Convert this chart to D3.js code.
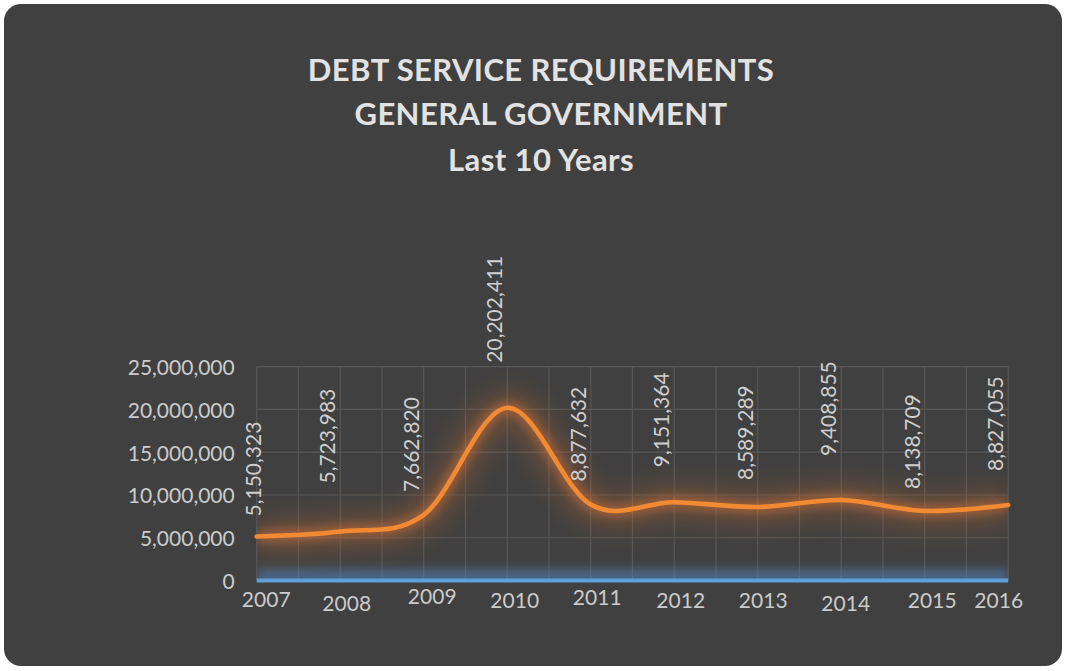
<!DOCTYPE html>
<html>
<head>
<meta charset="utf-8">
<script src="https://cdn.jsdelivr.net/npm/d3@7"></script>
<style>
  html, body { margin: 0; padding: 0; background: #ffffff; }
  svg { display: block; }
</style>
</head>
<body>
<svg id="chart" width="1067" height="671"></svg>
<script>
// Debt service requirements, general government, 2007-2016
const years = ['2007', '2008', '2009', '2010', '2011', '2012', '2013', '2014', '2015', '2016'];
const debtService = [5150323, 5723983, 7662820, 20202411, 8877632, 9151364, 8589289, 9408855, 8138709, 8827055];
const secondSeries = [0, 0, 0, 0, 0, 0, 0, 0, 0, 0];
const yTicks = [0, 5000000, 10000000, 15000000, 20000000, 25000000];
const titleLines = ['DEBT SERVICE REQUIREMENTS', 'GENERAL GOVERNMENT', 'Last 10 Years'];

// hand-placed offsets of the value labels (rise above the point) and year labels
const labelRise = [20, 48, 23, 45, 23, 35, 27, 44, 22, 34];
const yearNudgeX = [3, 0, 2, 1, 0, 0, -1, -2, 1, -16];
const yearNudgeY = [-1, 3, -4, 0, -3, 0, 0, 3, 0, 0];

const W = 1067, H = 671;
const plot = { left: 256.7, right: 1008.2, top: 366.7, bottom: 580.5 };
const font = 'Lato, "Open Sans", sans-serif';

const svg = d3.select('#chart');
const defs = svg.append('defs');

function blur(id, sd) {
  defs.append('filter')
    .attr('id', id)
    .attr('filterUnits', 'userSpaceOnUse')
    .attr('x', 0).attr('y', 0).attr('width', W).attr('height', H)
    .append('feGaussianBlur').attr('stdDeviation', sd);
}
blur('softWide', 12);
blur('softNarrow', 5);

defs.append('clipPath').attr('id', 'plotClip')
  .append('rect')
  .attr('x', plot.left).attr('y', plot.top - 30)
  .attr('width', plot.right - plot.left)
  .attr('height', plot.bottom - plot.top + 31);

// card
svg.append('rect')
  .attr('x', 4).attr('y', 4).attr('width', W - 9).attr('height', H - 9)
  .attr('rx', 17).attr('ry', 17)
  .attr('fill', '#404040');

// title
svg.append('g').selectAll('text').data(titleLines).join('text')
  .attr('x', 541)
  .attr('y', (d, i) => [81, 125, 171][i])
  .attr('text-anchor', 'middle')
  .attr('font-family', font)
  .attr('font-weight', 700)
  .attr('font-size', 31)
  .attr('letter-spacing', 0.4)
  .attr('fill', '#e2e2e2')
  .text(d => d);

const x = d3.scalePoint().domain(years).range([plot.left, plot.right]);
const y = d3.scaleLinear().domain([0, 25000000]).range([plot.bottom, plot.top]);
const step = x.step();

// gridlines
const grid = svg.append('g').attr('stroke', '#575757').attr('stroke-width', 1.2);
grid.selectAll('line.h').data(yTicks).join('line')
  .attr('class', 'h')
  .attr('x1', plot.left).attr('x2', plot.right)
  .attr('y1', d => y(d)).attr('y2', d => y(d));
const vx = [];
years.forEach((yr, i) => {
  vx.push(x(yr));
  if (i < years.length - 1) vx.push(x(yr) + step / 2);
});
grid.selectAll('line.v').data(vx).join('line')
  .attr('class', 'v')
  .attr('x1', d => d).attr('x2', d => d)
  .attr('y1', plot.top).attr('y2', plot.bottom);

// y axis
const yAxis = svg.append('g')
  .attr('transform', `translate(${plot.left},0)`)
  .call(d3.axisLeft(y).tickValues(yTicks).tickFormat(d3.format(',')).tickSize(0).tickPadding(22));
yAxis.select('.domain').remove();
yAxis.selectAll('text')
  .attr('font-family', font).attr('font-size', 21)
  .attr('fill', '#cbcbcb').attr('dy', '0.38em');

// x axis
const xAxis = svg.append('g')
  .attr('transform', `translate(0,${plot.bottom})`)
  .call(d3.axisBottom(x).tickSize(0));
xAxis.select('.domain').remove();
xAxis.selectAll('text')
  .attr('font-family', font).attr('font-size', 21)
  .attr('fill', '#cbcbcb')
  .attr('dy', null)
  .attr('x', (d, i) => 6 + yearNudgeX[i])
  .attr('y', (d, i) => 27 + yearNudgeY[i]);

const line = d3.line()
  .x((d, i) => x(years[i]))
  .y(d => y(d))
  .curve(d3.curveCardinal.tension(0));

// glows, kept inside the plot area
const glow = svg.append('g').attr('clip-path', 'url(#plotClip)');
glow.append('path').datum(secondSeries)
  .attr('d', line).attr('fill', 'none')
  .attr('stroke', '#4e7bab').attr('stroke-width', 24)
  .attr('stroke-opacity', 0.6)
  .attr('filter', 'url(#softNarrow)');
glow.append('path').datum(debtService)
  .attr('d', line).attr('fill', 'none')
  .attr('stroke', '#c0652a').attr('stroke-width', 36)
  .attr('stroke-opacity', 0.3)
  .attr('filter', 'url(#softWide)');
glow.append('path').datum(debtService)
  .attr('d', line).attr('fill', 'none')
  .attr('stroke', '#e07a30').attr('stroke-width', 12)
  .attr('stroke-opacity', 0.45)
  .attr('filter', 'url(#softNarrow)');

// series lines
svg.append('path').datum(secondSeries)
  .attr('d', line).attr('fill', 'none')
  .attr('stroke', '#5f9fdc').attr('stroke-width', 4);
svg.append('path').datum(debtService)
  .attr('d', line).attr('fill', 'none')
  .attr('stroke', '#f28a33').attr('stroke-width', 4.6)
  .attr('stroke-linecap', 'round');

// value labels, rotated
svg.append('g').selectAll('text').data(debtService).join('text')
  .attr('transform', (d, i) => {
    const bx = Math.max(x(years[i]) - 5, plot.left + 4);
    const by = y(d) - labelRise[i];
    return `translate(${bx},${by}) rotate(-90)`;
  })
  .attr('font-family', font).attr('font-size', 21)
  .attr('fill', '#cfcfcf')
  .text(d => d3.format(',')(d));
</script>
</body>
</html>
